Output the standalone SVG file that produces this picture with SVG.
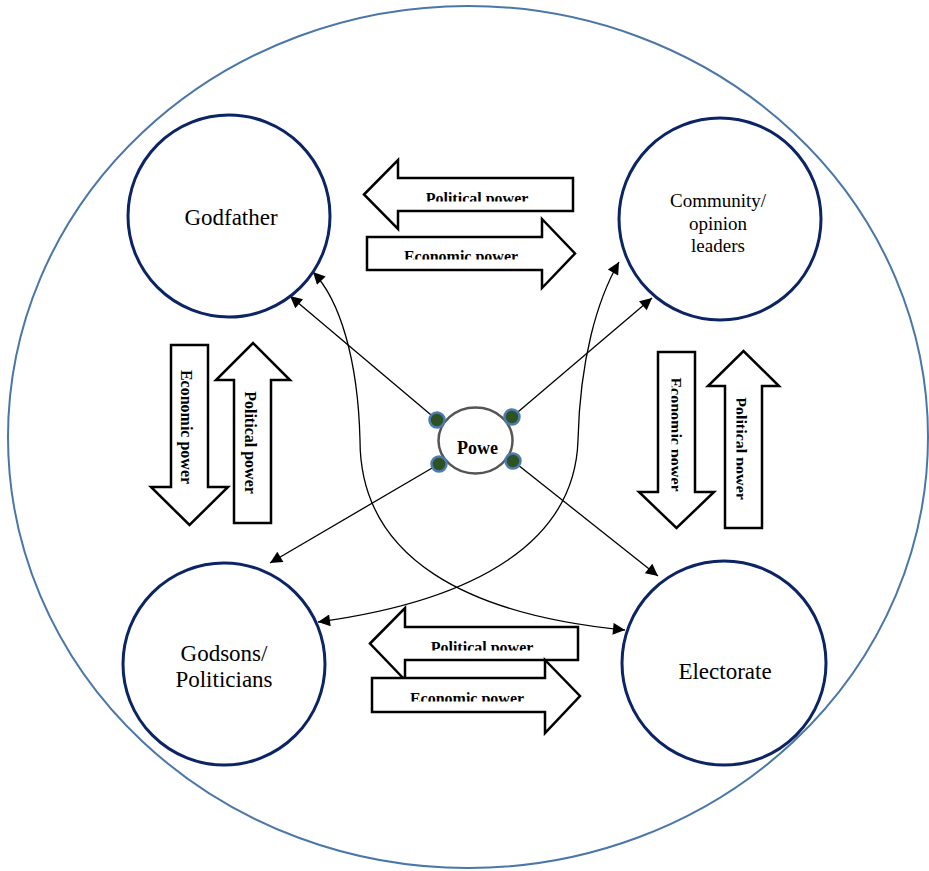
<svg xmlns="http://www.w3.org/2000/svg" width="929" height="871" viewBox="0 0 929 871">
<style>
.node{fill:#fff;stroke:#0b2463;stroke-width:3}
.fat{fill:#fff;stroke:#000;stroke-width:2.5;stroke-linejoin:miter}
.lbl{font-family:"Liberation Serif","Times New Roman",serif;font-size:23px;fill:#000;text-anchor:middle}
.sm{font-size:19px}
.fl{font-family:"Liberation Serif","Times New Roman",serif;font-size:16px;font-weight:bold;fill:#000;text-anchor:middle}
.con{fill:none;stroke:#000;stroke-width:1.3}
.dot{fill:#2f5222;stroke:#4a7cb3;stroke-width:2.5}
</style>
<defs>
<marker id="ah" viewBox="0 0 10 10" refX="10" refY="5" markerWidth="16" markerHeight="12" markerUnits="userSpaceOnUse" orient="auto-start-reverse">
<path d="M0,0 L10,5 L0,10 z" fill="#000"/>
</marker>
<clipPath id="cut" clipPathUnits="userSpaceOnUse"><rect x="-120" y="-24" width="240" height="22"/></clipPath>
</defs>
<rect width="929" height="871" fill="#fff"/>
<g id="boundary">
<ellipse cx="468" cy="437" rx="460" ry="431" fill="none" stroke="#4a76a8" stroke-width="2"/>
</g>
<g id="connectors">
<path class="con" d="M313,272 C340,300 358,360 360,440 C360,560 470,615 625,630" marker-start="url(#ah)" marker-end="url(#ah)"/>
<path class="con" d="M619,262 C597,300 580,360 578,440 C575,540 480,600 318,622" marker-start="url(#ah)" marker-end="url(#ah)"/>
<line class="con" x1="437" y1="420" x2="290" y2="296" marker-end="url(#ah)"/>
<line class="con" x1="512" y1="417" x2="652" y2="298" marker-end="url(#ah)"/>
<line class="con" x1="439" y1="464" x2="270" y2="563" marker-end="url(#ah)"/>
<line class="con" x1="513" y1="461" x2="658" y2="576" marker-end="url(#ah)"/>
</g>
<g id="flows">
<g id="flow-top-political">
<polygon class="fat" points="364,194.5 398,160 398,178 573,178 573,211 398,211 398,229"/>
<text class="fl" transform="translate(477,203.6)" clip-path="url(#cut)">Political power</text>
</g>
<g id="flow-top-economic">
<polygon class="fat" points="367,237 542,237 542,219 575,253.5 542,288 542,270 367,270"/>
<text class="fl" transform="translate(461,261.6)" clip-path="url(#cut)">Economic power</text>
</g>
<g id="flow-left-economic">
<polygon class="fat" points="171,345 208,345 208,487 228,487 189.5,525 151,487 171,487"/>
<text class="fl" transform="translate(181.4,427) rotate(90)">Economic power</text>
</g>
<g id="flow-left-political">
<polygon class="fat" points="234,523 234,380 216,380 253,343 290,380 271,380 271,523"/>
<text class="fl" transform="translate(244.5,442.5) rotate(90)">Political power</text>
</g>
<g id="flow-right-economic">
<polygon class="fat" points="658,352 695,352 695,492 714,492 676.5,528 639,492 658,492"/>
<text class="fl" transform="translate(669.5,434.5) rotate(90)" clip-path="url(#cut)">Economic power</text>
</g>
<g id="flow-right-political">
<polygon class="fat" points="725,528 725,386 708,386 743.5,351 779,386 762,386 762,528"/>
<text class="fl" transform="translate(734.5,448.5) rotate(90)" clip-path="url(#cut)">Political power</text>
</g>
<g id="flow-bottom-political">
<polygon class="fat" points="370,643.5 405,608 405,627 578,627 578,660 405,660 405,680"/>
<text class="fl" transform="translate(482,652.6)" clip-path="url(#cut)">Political power</text>
</g>
<g id="flow-bottom-economic">
<polygon class="fat" points="372,678 545,678 545,660 580,696 545,733 545,712 372,712"/>
<text class="fl" transform="translate(467,703.6)" clip-path="url(#cut)">Economic power</text>
</g>
</g>
<g id="node-godfather">
<circle class="node" cx="229" cy="216" r="101"/>
<text class="lbl" x="231" y="225">Godfather</text>
</g>
<g id="node-community">
<circle class="node" cx="720" cy="219" r="101"/>
<text class="lbl sm" x="718" y="207">Community/</text>
<text class="lbl sm" x="718" y="230">opinion</text>
<text class="lbl sm" x="718" y="252">leaders</text>
</g>
<g id="node-godsons">
<circle class="node" cx="224" cy="664" r="101"/>
<text class="lbl" x="224" y="661">Godsons/</text>
<text class="lbl" x="224" y="687">Politicians</text>
</g>
<g id="node-electorate">
<circle class="node" cx="724" cy="663" r="102"/>
<text class="lbl" x="725" y="679">Electorate</text>
</g>
<g id="node-power">
<ellipse cx="475.5" cy="440.5" rx="37" ry="33" fill="#fff" stroke="#555" stroke-width="2.5"/>
<circle class="dot" cx="437" cy="420" r="7.5"/>
<circle class="dot" cx="512" cy="417" r="7.5"/>
<circle class="dot" cx="439" cy="464" r="7.5"/>
<circle class="dot" cx="513" cy="461" r="7.5"/>
<text class="fl" style="font-size:18px" x="477.5" y="454">Powe</text>
</g>
</svg>
